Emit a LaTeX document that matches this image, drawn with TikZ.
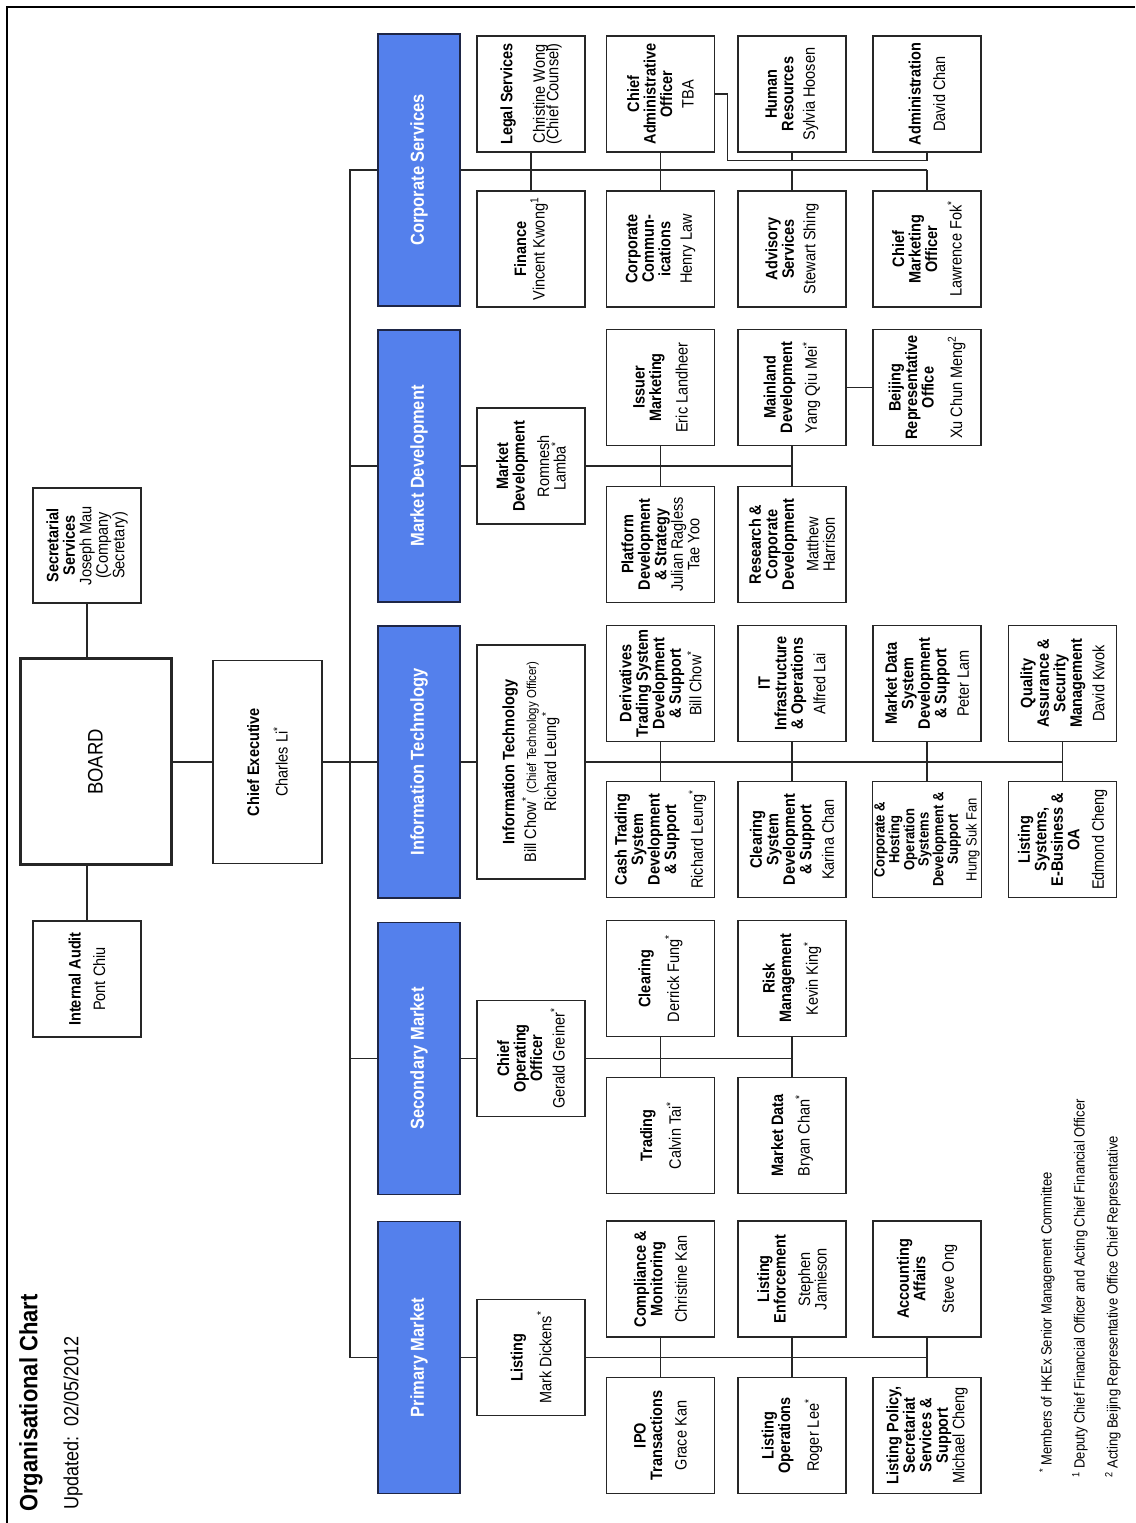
\documentclass[tikz,border=0pt]{standalone}
\usepackage{fontspec}
\setmainfont{Liberation Sans}[FakeStretch=0.88]
\usetikzlibrary{calc}

\definecolor{divblue}{RGB}{84,128,236}
\definecolor{divedge}{RGB}{30,38,70}

\newcommand\nm{\mdseries}
\newcommand\st{\textsuperscript{*}}

\tikzset{
    org frame/.style={
      draw=black, line width=2.5pt
    },
    org link/.style={
      draw=black!85, line width=1.2pt
    },
    org unit/.style={
      draw=black!85, line width=1.2pt, fill=white,
      align=center, inner sep=2pt,
      minimum width=116pt, minimum height=108pt,
      font=\bfseries\fontsize{16.5}{16.5}\selectfont
    },
    org division/.style={
      draw=divedge, line width=1.2pt, fill=divblue, text=white,
      minimum width=272pt, minimum height=82pt,
      font=\bfseries\fontsize{18.75}{21}\selectfont
    },
    org note/.style={
      anchor=west, inner sep=0pt,
      font=\fontsize{14.8}{17}\selectfont
    }
  }

\begin{document}
\begin{tikzpicture}[x=1pt, y=1pt]
  \useasboundingbox (0,0) rectangle (1135,1523);
  \begin{scope}[rotate=90, transform shape]
    % frame and heading
    \draw[org frame] (0,-7) -- (1516,-7) -- (1516,-1135);
    \node[anchor=west, inner sep=0pt, font=\bfseries\fontsize{25}{29}\selectfont]
      (title) at (11,-31) {Organisational Chart};
    \node[anchor=west, inner sep=0pt, font=\fontsize{20.5}{24}\selectfont]
      (updated) at (13,-73) {Updated:\ \ 02/05/2012};

    % board level
    \node[org unit, line width=3pt, minimum width=206pt, minimum height=151pt,
          font=\fontsize{21}{24}\selectfont] (board) at (761,-95.5) {BOARD};
    \node[org unit, minimum width=115pt] (sec) at (977.5,-87)
      {Secretarial\\Services\\\nm Joseph Mau\\\nm (Company\\\nm Secretary)};
    \node[org unit] (audit) at (544,-87) {Internal Audit\\[8pt]\nm Pont Chiu};
    \node[org unit, minimum width=203pt, minimum height=109pt] (ceo) at (761,-267.5)
      {Chief Executive\\[12pt]\nm Charles Li\st};
    \coordinate (spine) at (0,-350);

    % divisions
    \node[org division] (cs) at (1353,-419) {Corporate Services};
    \node[org division] (mdv) at (1057,-419) {Market Development};
    \node[org division] (itd) at (761,-419) {Information Technology};
    \node[org division] (smk) at (464.5,-419) {Secondary Market};
    \node[org division] (pmk) at (165.5,-419) {Primary Market};

    % corporate services
    \node[org unit] (legal) at (1429,-531) {Legal Services\\[16pt]\nm Christine Wong\\[-3pt]\nm (Chief Counsel)};
    \node[org unit] (finance) at (1274,-531) {Finance\\[2pt]\nm Vincent Kwong\textsuperscript{1}};
    \node[org unit] (cao) at (1429,-660.5) {Chief\\Administrative\\Officer\\[5pt]\nm TBA};
    \node[org unit] (comms) at (1274,-660.5) {Corporate\\Commun-\\ications\\[5pt]\nm Henry Law};
    \node[org unit] (hr) at (1429,-792) {Human\\Resources\\[5pt]\nm Sylvia Hoosen};
    \node[org unit] (advisory) at (1274,-792) {Advisory\\Services\\[5pt]\nm Stewart Shing};
    \node[org unit] (admin) at (1429,-927) {Administration\\[8pt]\nm David Chan};
    \node[org unit] (cmo) at (1274,-927) {Chief\\Marketing\\Officer\\[8pt]\nm Lawrence Fok\st};

    % market development
    \node[org unit] (mdhead) at (1057,-531) {Market\\Development\\[8pt]\nm Romnesh\\\nm Lamba\st};
    \node[org unit] (issuer) at (1135.5,-660.5) {Issuer\\Marketing\\[10pt]\nm Eric Landheer};
    \node[org unit] (platform) at (978.5,-660.5) {Platform\\Development\\\& Strategy\\\nm Julian Ragless\\\nm Tae Yoo};
    \node[org unit] (mainland) at (1135.5,-792) {Mainland\\Development\\[6pt]\nm Yang Qiu Mei\st};
    \node[org unit] (research) at (978.5,-792) {Research \&\\Corporate\\Development\\[8pt]\nm Matthew\\\nm Harrison};
    \node[org unit] (beijing) at (1135.5,-927) {Beijing\\Representative\\Office\\[12pt]\nm Xu Chun Meng\textsuperscript{2}};

    % information technology
    \node[org unit, minimum width=234pt] (ithead) at (761,-531)
      {Information Technology\\[3pt]\nm Bill Chow\st\ {\fontsize{13}{14}\selectfont(Chief Technology Officer)}\\[2pt]\nm Richard Leung\st};
    \node[org unit] (deriv) at (839.5,-660.5) {Derivatives\\Trading System\\Development\\\& Support\\[2pt]\nm Bill Chow\st};
    \node[org unit] (cash) at (683.5,-660.5) {Cash Trading\\System\\Development\\\& Support\\[8pt]\nm Richard Leung\st};
    \node[org unit] (infra) at (839.5,-792) {IT\\Infrastructure\\\& Operations\\[6pt]\nm Alfred Lai};
    \node[org unit] (clrsys) at (683.5,-792) {Clearing\\System\\Development\\\& Support\\[6pt]\nm Karina Chan};
    \node[org unit] (mdsys) at (839.5,-927) {Market Data\\System\\Development\\\& Support\\[6pt]\nm Peter Lam};
    \node[org unit, font=\bfseries\fontsize{14.8}{11.5}\selectfont] (corpsys) at (683.5,-927)
      {Corporate \&\\Hosting\\Operation\\Systems\\Development \&\\Support\\[4pt]\nm Hung Suk Fan};
    \node[org unit] (qa) at (839.5,-1062.5) {Quality\\Assurance \&\\Security\\Management\\[6pt]\nm David Kwok};
    \node[org unit] (lstsys) at (683.5,-1062.5) {Listing\\Systems,\\E-Business \&\\OA\\[8pt]\nm Edmond Cheng};

    % secondary market
    \node[org unit] (coo) at (464.5,-531) {Chief\\Operating\\Officer\\[6pt]\nm Gerald Greiner\st};
    \node[org unit] (clearing) at (544.5,-660.5) {Clearing\\[10pt]\nm Derrick Fung\st};
    \node[org unit] (trading) at (387.5,-660.5) {Trading\\[10pt]\nm Calvin Tai\st};
    \node[org unit] (risk) at (544.5,-792) {Risk\\Management\\[8pt]\nm Kevin King\st};
    \node[org unit] (mktdata) at (387.5,-792) {Market Data\\[10pt]\nm Bryan Chan\st};

    % primary market
    \node[org unit] (listing) at (165.5,-531) {Listing\\[10pt]\nm Mark Dickens\st};
    \node[org unit] (compliance) at (244,-660.5) {Compliance \&\\Monitoring\\[8pt]\nm Christine Kan};
    \node[org unit] (ipo) at (87.5,-660.5) {IPO\\Transactions\\[8pt]\nm Grace Kan};
    \node[org unit] (enforce) at (244,-792) {Listing\\Enforcement\\[8pt]\nm Stephen\\\nm Jamieson};
    \node[org unit] (lstops) at (87.5,-792) {Listing\\Operations\\[10pt]\nm Roger Lee\st};
    \node[org unit] (acct) at (244,-927) {Accounting\\Affairs\\[12pt]\nm Steve Ong};
    \node[org unit] (policy) at (87.5,-927) {Listing Policy,\\Secretariat\\Services \&\\Support\\\nm Michael Cheng};

    % links, top
    \draw[org link] (sec.west) -- (sec.west -| board.east);
    \draw[org link] (audit.east) -- (audit.east -| board.west);
    \draw[org link] (board.south) -- (ceo.north);
    \draw[org link] (ceo.south) -- (itd.north);
    \draw[org link] (pmk.north) -- (pmk.north |- spine) -- (cs.north |- spine) -- (cs.north);
    \foreach \x in {smk,mdv}
      \draw[org link] (\x.north) -- (\x.north |- spine);

    % links, corporate services
    \draw[org link] (cs.south) -- (cs.south |- cmo.east);
    \foreach \x in {legal,cao}
      \draw[org link] (\x.west) -- (\x.west -| cs.south);
    \foreach \x in {finance,comms,advisory,cmo}
      \draw[org link] (\x.east) -- (\x.east -| cs.south);
    \draw[org link] (cao.south) -- ++(0,-12) -| ($(admin.west)+(-8,0)$) -- (admin.west);
    \draw[org link] (hr.west) -- ++(-8,0);

    % links, market development
    \draw[org link] (mdv.south) -- (mdhead.north);
    \draw[org link] (mdhead.south) -- (mdhead.south |- research.east);
    \foreach \x in {issuer,mainland}
      \draw[org link] (\x.west) -- (\x.west -| mdhead.south);
    \foreach \x in {platform,research}
      \draw[org link] (\x.east) -- (\x.east -| mdhead.south);
    \draw[org link] (mainland.south) -- (beijing.north);

    % links, information technology
    \draw[org link] (itd.south) -- (ithead.north);
    \draw[org link] (ithead.south) -- (ithead.south |- lstsys.east);
    \foreach \x in {deriv,infra,mdsys,qa}
      \draw[org link] (\x.west) -- (\x.west -| ithead.south);
    \foreach \x in {cash,clrsys,corpsys,lstsys}
      \draw[org link] (\x.east) -- (\x.east -| ithead.south);

    % links, secondary market
    \draw[org link] (smk.south) -- (coo.north);
    \draw[org link] (coo.south) -- (coo.south |- mktdata.east);
    \foreach \x in {clearing,risk}
      \draw[org link] (\x.west) -- (\x.west -| coo.south);
    \foreach \x in {trading,mktdata}
      \draw[org link] (\x.east) -- (\x.east -| coo.south);

    % links, primary market
    \draw[org link] (pmk.south) -- (listing.north);
    \draw[org link] (listing.south) -- (listing.south |- policy.east);
    \foreach \x in {compliance,enforce,acct}
      \draw[org link] (\x.west) -- (\x.west -| listing.south);
    \foreach \x in {ipo,lstops,policy}
      \draw[org link] (\x.east) -- (\x.east -| listing.south);

    % notes
    \node[org note] (note0) at (50,-1047) {\st\ Members of HKEx Senior Management Committee};
    \node[org note] (note1) at (45,-1080) {\textsuperscript{1} Deputy Chief Financial Officer and Acting Chief Financial Officer};
    \node[org note] (note2) at (45,-1113) {\textsuperscript{2} Acting Beijing Representative Office Chief Representative};
  \end{scope}
\end{tikzpicture}
\end{document}
